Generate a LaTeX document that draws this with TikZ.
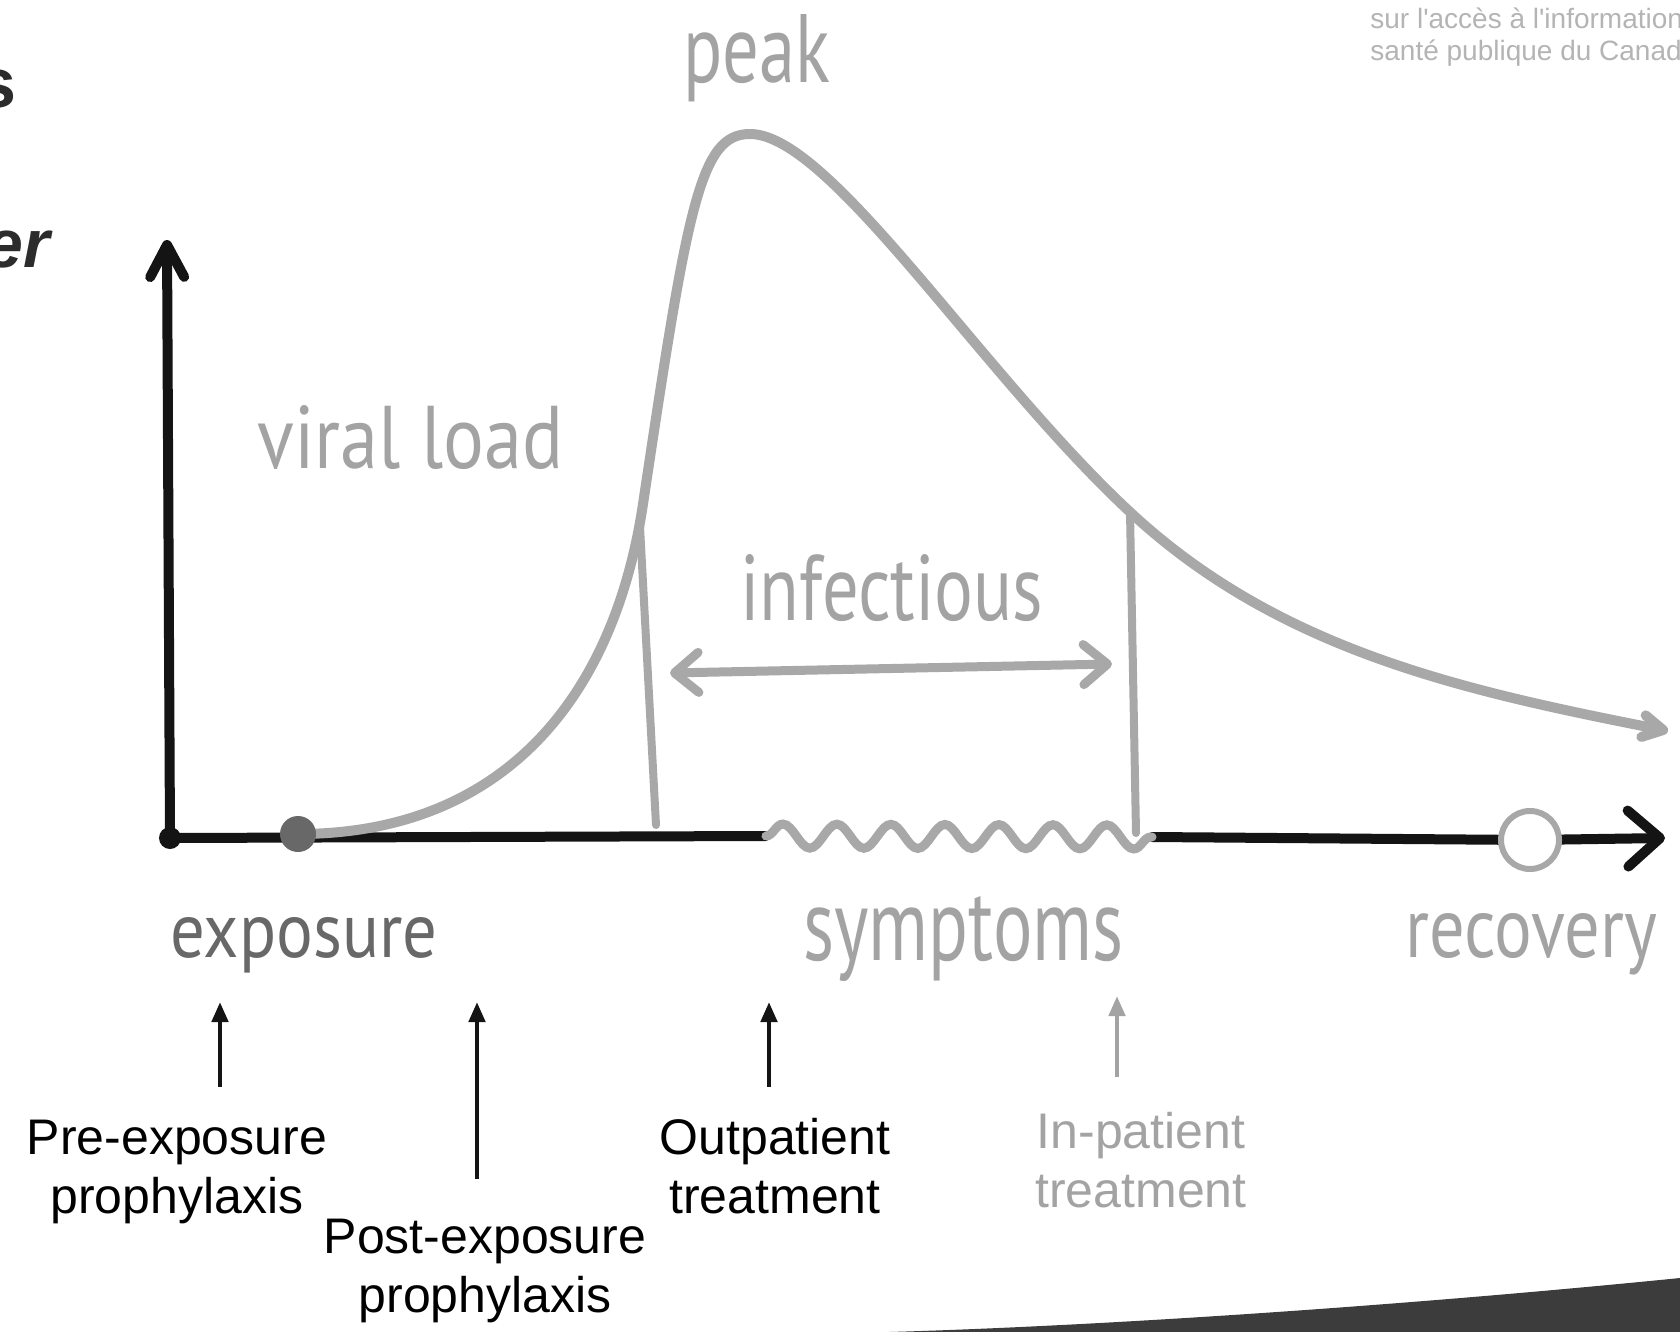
\documentclass[tikz,border=0pt]{standalone}
\usepackage{fontspec}
\setmainfont{Liberation Sans}
\newfontfamily\handfont{PT Sans}
\usetikzlibrary{arrows.meta,decorations.pathmorphing}
\definecolor{curvegray}{HTML}{A8A8A8}
\definecolor{handgray}{HTML}{A3A3A3}
\definecolor{darkhand}{HTML}{686868}
\definecolor{inkblack}{HTML}{141414}
\definecolor{notegray}{HTML}{B4B4B4}
\definecolor{swooshgray}{HTML}{3C3C3C}
\newcommand\handlbl[3]{\resizebox{#1}{#2}{\handfont #3}}
\tikzset{
  axisline/.style={draw=inkblack, line width=5pt, line cap=round},
  curveline/.style={draw=curvegray, line width=5pt, line cap=round, line join=round},
  greyline/.style={draw=curvegray, line width=4pt, line cap=round},
  barb/.style={-{Straight Barb[length=#1, width=11pt, round]}},
  handtext/.style={inner sep=0pt, anchor=base west, text=handgray},
  bottomtext/.style={inner sep=0pt, anchor=base, align=center, font=\fontsize{25pt}{29.5pt}\selectfont},
  uparrow/.style={draw=inkblack, line width=2.3pt, -{Triangle[length=10pt, width=8pt]}},
  dotnode/.style={circle, inner sep=0pt},
}
\begin{document}
\begin{tikzpicture}[x=0.5pt, y=-0.5pt]
\useasboundingbox (0,0) rectangle (1680,1332);
\begin{scope}
\clip (0,0) rectangle (1680,1332);

% swoosh bottom right
\fill[swooshgray] (889,1332) .. controls (1100,1326) and (1400,1306) .. (1680,1278) -- (1680,1332) -- cycle;

% top fragments
\node[inner sep=0pt, anchor=base east, font=\fontsize{35pt}{40pt}\selectfont\bfseries, text=inkblack!90] (fragS) at (17,108) {s};
\node[inner sep=0pt, anchor=base east, font=\fontsize{34pt}{40pt}\selectfont\bfseries\itshape, text=inkblack!90] (fragER) at (50,268) {er};
\node[inner sep=0pt, anchor=base west, align=left, font=\fontsize{14pt}{16pt}\selectfont, text=notegray] (note) at (1370,61) {sur l\textquotesingle accès à l\textquotesingle information\\santé publique du Canad};

% coordinates
\coordinate (origin) at (170,838);
\coordinate (ytop) at (167,240);
\coordinate (wstart) at (766,836);
\coordinate (wend) at (1152,837);
\coordinate (recpt) at (1530,840);
\coordinate (xend) at (1665,838);
\coordinate (expopt) at (298,834);
\coordinate (steep) at (643,504);
\coordinate (peakpt) at (750,134);
\coordinate (rbound) at (1130,512);
\coordinate (curveend) at (1668,731);

% axes
\draw[axisline, -{Straight Barb[length=16pt, width=17pt, round]}] (origin) -- (ytop);
\draw[axisline] (origin) -- (wstart);
\draw[axisline, -{Straight Barb[length=16pt, width=28pt, round]}] (wend) -- (recpt) -- (xend);

% symptom wave
\draw[draw=curvegray, line width=4.5pt, line cap=round, decorate, decoration={snake, amplitude=6pt, segment length=27pt}] (wstart) -- (wend);

% viral load curve
\draw[curveline, barb=10pt] (expopt)
  .. controls (498,834) and (613,704) .. (steep)
  .. controls (688,204) and (700,134) .. (peakpt)
  .. controls (830,134) and (980,372.5) .. (rbound)
  .. controls (1280,651.5) and (1466,691) .. (curveend);

% infectious boundaries
\coordinate (ltop) at (640,527); \coordinate (lbot) at (656,825);
\coordinate (rtop) at (1130,512); \coordinate (rbot) at (1136,833);
\draw[greyline] (ltop) -- (lbot);
\draw[greyline] (rtop) -- (rbot);

% infectious arrow
\coordinate (infL) at (670,673); \coordinate (infR) at (1112,664);
\draw[draw=curvegray, line width=4.5pt, line cap=round,
  {Straight Barb[length=12pt, width=20pt, round]}-{Straight Barb[length=12pt, width=20pt, round]}] (infL) -- (infR);

% dots
\node[dotnode, fill=inkblack, minimum size=11pt] (origindot) at (origin) {};
\node[dotnode, fill=darkhand, minimum size=18pt] (expo) at (expopt) {};
\node[dotnode, draw=curvegray, line width=3pt, fill=white, minimum size=29pt] (rec) at (recpt) {};

% hand labels
\node[handtext] (peak) at (683,83) {\handlbl{73.5pt}{34pt}{peak}};
\node[handtext] (viral) at (257,468) {\handlbl{153pt}{31.5pt}{viral load}};
\node[handtext] (infect) at (740,620) {\handlbl{151.5pt}{33pt}{infectious}};
\node[handtext, text=darkhand] (exposure) at (170,957) {\handlbl{133.5pt}{20pt}{exposure}};
\node[handtext] (symptoms) at (803,960) {\handlbl{160pt}{32pt}{symptoms}};
\node[handtext] (recovery) at (1405,957) {\handlbl{126pt}{22pt}{recovery}};

% bottom arrows
\coordinate (preA) at (220,1087); \coordinate (preB) at (220,1002);
\coordinate (postA) at (477,1179); \coordinate (postB) at (477,1002);
\coordinate (outA) at (769,1087); \coordinate (outB) at (769,1002);
\coordinate (inA) at (1117,1077); \coordinate (inB) at (1117,996);
\draw[uparrow] (preA) -- (preB);
\draw[uparrow] (postA) -- (postB);
\draw[uparrow] (outA) -- (outB);
\draw[uparrow, draw=handgray] (inA) -- (inB);

% bottom texts (anchor = baseline of last line)
\node[bottomtext] (pre) at (177,1213) {Pre-exposure\\prophylaxis};
\node[bottomtext] (post) at (485,1312) {Post-exposure\\prophylaxis};
\node[bottomtext] (outp) at (775,1213) {Outpatient\\treatment};
\node[bottomtext, text=handgray] (inp) at (1141,1207) {In-patient\\treatment};
\end{scope}
\end{tikzpicture}
\end{document}
